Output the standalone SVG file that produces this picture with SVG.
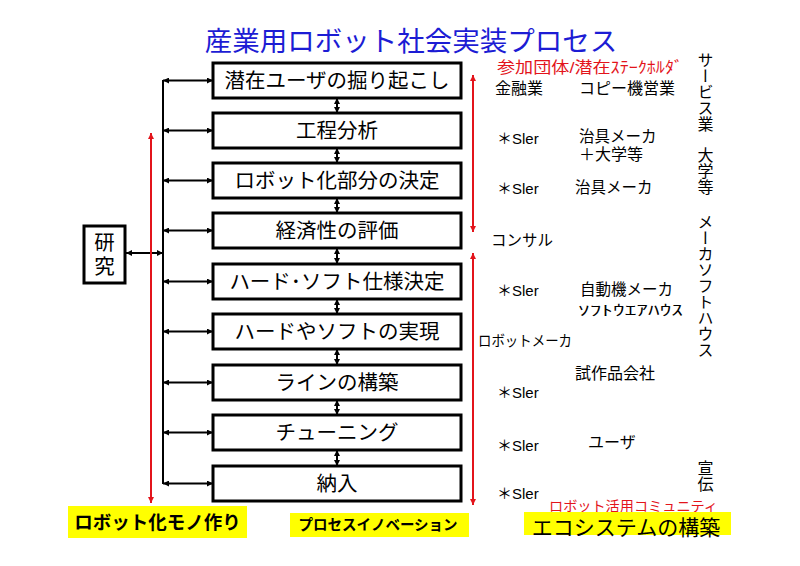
<svg xmlns="http://www.w3.org/2000/svg" width="800" height="566" viewBox="0 0 800 566">
<defs>
<marker id="ab" viewBox="0 0 10 10" refX="10" refY="5" markerWidth="7" markerHeight="6" orient="auto-start-reverse" markerUnits="userSpaceOnUse"><path d="M0,0 L10,5 L0,10 z" fill="#000"/></marker>
<marker id="ar" viewBox="0 0 10 10" refX="10" refY="5" markerWidth="8" markerHeight="6" orient="auto-start-reverse" markerUnits="userSpaceOnUse"><path d="M0,0 L10,5 L0,10 z" fill="#e3141b"/></marker>
<style>
text{font-family:"Liberation Sans","Noto Sans CJK JP",sans-serif;dominant-baseline:central;fill:#000}
.box{fill:#fff;stroke:#000;stroke-width:3}
.bt{font-size:20.5px;text-anchor:middle}
.lb{font-size:16px}
.red{fill:#e3141b}
.vt{font-size:16px;writing-mode:vertical-rl;text-orientation:upright}
.yl{fill:#ffff00}
.c{stroke:#000;stroke-width:2;fill:none;marker-start:url(#ab);marker-end:url(#ab)}
.rc{stroke:#e3141b;stroke-width:2;fill:none;marker-start:url(#ar);marker-end:url(#ar)}
</style>
</defs>
<rect width="800" height="566" fill="#fff"/>
<text x="411" y="41" style="font-size:27.5px;text-anchor:middle;fill:#1c1cd4">産業用ロボット社会実装プロセス</text>

<g id="connectors">
<line x1="163" y1="80" x2="163" y2="484" stroke="#000" stroke-width="2"/>
<line class="c" x1="163" y1="80.5" x2="213" y2="80.5"/>
<line class="c" x1="163" y1="130.5" x2="213" y2="130.5"/>
<line class="c" x1="163" y1="180.5" x2="213" y2="180.5"/>
<line class="c" x1="163" y1="230.5" x2="213" y2="230.5"/>
<line class="c" x1="163" y1="281.5" x2="213" y2="281.5"/>
<line class="c" x1="163" y1="331.5" x2="213" y2="331.5"/>
<line class="c" x1="163" y1="382.5" x2="213" y2="382.5"/>
<line class="c" x1="163" y1="432.5" x2="213" y2="432.5"/>
<line class="c" x1="163" y1="483.5" x2="213" y2="483.5"/>
<line class="c" x1="126" y1="253" x2="163" y2="253"/>
<line class="c" x1="337" y1="98" x2="337" y2="113"/>
<line class="c" x1="337" y1="148" x2="337" y2="163"/>
<line class="c" x1="337" y1="198" x2="337" y2="213"/>
<line class="c" x1="337" y1="248" x2="337" y2="264"/>
<line class="c" x1="337" y1="299" x2="337" y2="314"/>
<line class="c" x1="337" y1="349" x2="337" y2="365"/>
<line class="c" x1="337" y1="400" x2="337" y2="415"/>
<line class="c" x1="337" y1="450" x2="337" y2="466"/>
<line class="rc" x1="151" y1="133" x2="151" y2="503"/>
<line class="rc" x1="473" y1="75" x2="473" y2="232"/>
<line class="rc" x1="473" y1="253" x2="473" y2="505"/>
</g>

<g id="n1"><rect class="box" x="213" y="63" width="248" height="35"/><text class="bt" x="337" y="80.5">潜在ユーザの掘り起こし</text></g>
<g id="n2"><rect class="box" x="213" y="113" width="248" height="35"/><text class="bt" x="337" y="130.5">工程分析</text></g>
<g id="n3"><rect class="box" x="213" y="163" width="248" height="35"/><text class="bt" x="337" y="180.5">ロボット化部分の決定</text></g>
<g id="n4"><rect class="box" x="213" y="213" width="248" height="35"/><text class="bt" x="337" y="230.5">経済性の評価</text></g>
<g id="n5"><rect class="box" x="213" y="264" width="248" height="35"/><text class="bt" x="337" y="281.5">ハード･ソフト仕様決定</text></g>
<g id="n6"><rect class="box" x="213" y="314" width="248" height="35"/><text class="bt" x="337" y="331.5">ハードやソフトの実現</text></g>
<g id="n7"><rect class="box" x="213" y="365" width="248" height="35"/><text class="bt" x="337" y="382.5">ラインの構築</text></g>
<g id="n8"><rect class="box" x="213" y="415" width="248" height="35"/><text class="bt" x="337" y="432.5">チューニング</text></g>
<g id="n9"><rect class="box" x="213" y="466" width="248" height="35"/><text class="bt" x="337" y="483.5">納入</text></g>
<g id="research"><rect class="box" x="84" y="226" width="41" height="57"/><text class="bt" x="104.5" y="242">研</text><text class="bt" x="104.5" y="266">究</text></g>

<g id="labels">
<text class="red" x="497" y="67" style="font-size:15.5px" textLength="186" lengthAdjust="spacingAndGlyphs">参加団体/潜在ｽﾃｰｸﾎﾙﾀﾞ</text>
<text class="lb" x="495" y="88">金融業</text>
<text class="lb" x="579" y="88">コピー機営業</text>
<text class="lb" x="497" y="138" style="font-size:15px">＊Sler</text>
<text class="lb" x="579" y="136" style="font-size:15.5px">治具メーカ</text>
<text class="lb" x="579" y="154">＋大学等</text>
<text class="lb" x="497" y="188" style="font-size:15px">＊Sler</text>
<text class="lb" x="575" y="187" style="font-size:15.5px">治具メーカ</text>
<text class="lb" x="491" y="240" style="font-size:15.5px">コンサル</text>
<text class="lb" x="497" y="290" style="font-size:15px">＊Sler</text>
<text class="lb" x="580" y="289" style="font-size:15.5px">自動機メーカ</text>
<text class="lb" x="578" y="310" style="font-size:14px" textLength="105" lengthAdjust="spacingAndGlyphs">ｿﾌﾄｳｴｱﾊｳｽ</text>
<text class="lb" x="478" y="341" style="font-size:14.5px" textLength="94" lengthAdjust="spacingAndGlyphs">ロボットメーカ</text>
<text class="lb" x="575" y="373">試作品会社</text>
<text class="lb" x="497" y="392" style="font-size:15px">＊Sler</text>
<text class="lb" x="588" y="442">ユーザ</text>
<text class="lb" x="497" y="445" style="font-size:15px">＊Sler</text>
<text class="lb" x="497" y="493" style="font-size:15px">＊Sler</text>
<text class="red" x="549" y="506" style="font-size:14px" textLength="169" lengthAdjust="spacingAndGlyphs">ロボット活用コミュニティ</text>
<text class="vt" x="704" y="52">サービス業</text>
<text class="vt" x="704" y="147">大学等</text>
<text class="vt" x="704" y="214">メーカソフトハウス</text>
<text class="vt" x="704" y="460">宣伝</text>
</g>

<g id="bottom-labels">
<rect class="yl" x="68" y="506" width="179" height="32"/>
<text x="157.5" y="522" style="font-size:18.5px;font-weight:bold;text-anchor:middle">ロボット化モノ作り</text>
<rect class="yl" x="290" y="513" width="179" height="24"/>
<text x="378" y="525" style="font-size:14.5px;font-weight:bold;text-anchor:middle">プロセスイノベーション</text>
<rect class="yl" x="524" y="512" width="207" height="23"/>
<text x="626" y="527" style="font-size:21px;text-anchor:middle">エコシステムの構築</text>
</g>
</svg>
